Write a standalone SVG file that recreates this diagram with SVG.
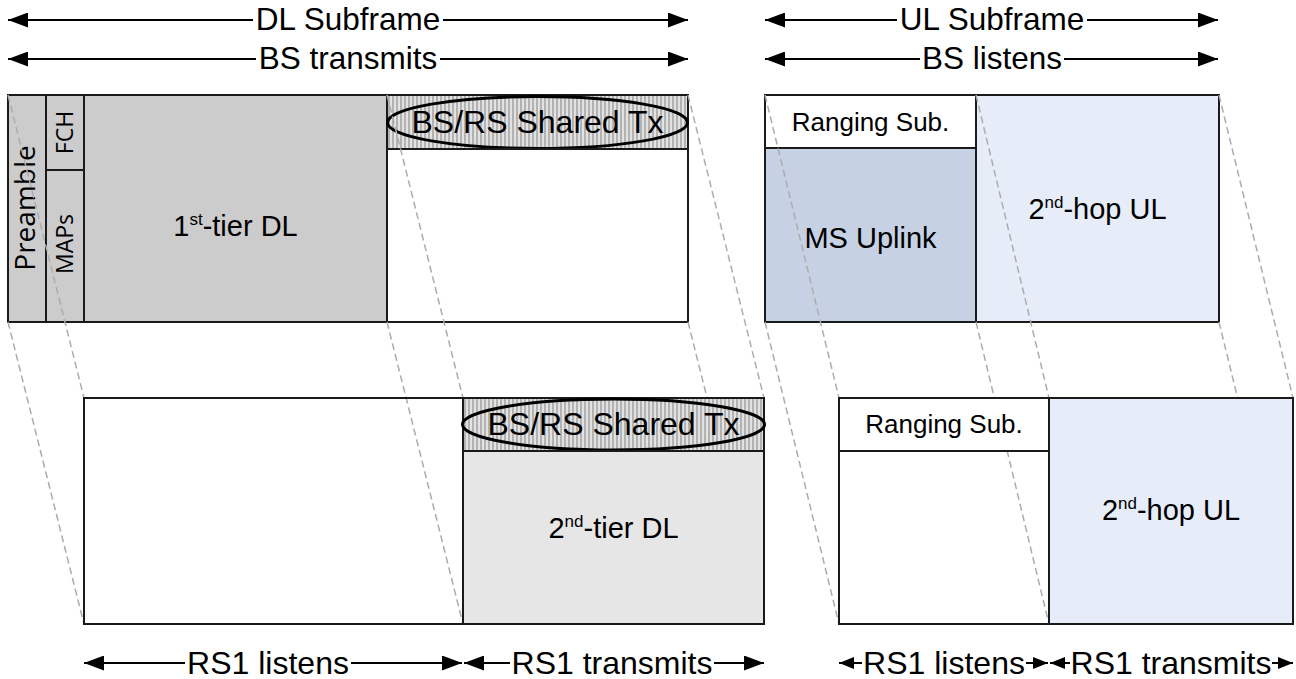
<svg xmlns="http://www.w3.org/2000/svg" width="1296" height="679" viewBox="0 0 1296 679">
  <style>
    .cell { stroke: #1a1a1a; stroke-width: 2; }
    .gray { fill: #cccccc; }
    .light { fill: #e6e6e6; }
    .blank { fill: #ffffff; }
    .open { fill: none; }
    .ms { fill: #c6d2e4; }
    .hop { fill: #e6edf8; }
    .shared { fill: url(#hatch); }
    .oval { fill: none; stroke: #000; stroke-width: 3; }
    .lbl { font-family: "Liberation Sans", Arial, sans-serif; fill: #000; text-anchor: middle; }
    .big { font-size: 32px; }
    .mid { font-size: 29px; }
    .small { font-size: 26px; }
    .dim { font-size: 31.5px; }
    .sup { font-size: 17px; }
    .side { font-family: "Open Sans", "Liberation Sans", sans-serif; fill: #000; text-anchor: middle; }
    .proj { stroke: #acacac; stroke-width: 1.5; stroke-dasharray: 7 4; fill: none; }
    .arr { stroke: #000; stroke-width: 2; fill: none; }
    .arr-s { marker-start: url(#head); }
    .arr-e { marker-end: url(#head); }
    .arr-ss { marker-start: url(#headSmall); }
    .arr-se { marker-end: url(#headSmall); }
  </style>
  <defs>
    <pattern id="hatch" patternUnits="userSpaceOnUse" width="4" height="10">
      <rect width="4" height="10" fill="#e2e2e2"/>
      <rect width="2" height="10" fill="#b2b2b2"/>
    </pattern>
    <marker id="head" markerUnits="userSpaceOnUse" markerWidth="20" markerHeight="15" refX="20" refY="7.5" orient="auto-start-reverse">
      <path d="M0,0 L20,7.5 L0,15 Z" fill="#000"/>
    </marker>
    <marker id="headSmall" markerUnits="userSpaceOnUse" markerWidth="15" markerHeight="12" refX="15" refY="6" orient="auto-start-reverse">
      <path d="M0,0 L15,6 L0,12 Z" fill="#000"/>
    </marker>
  </defs>

  <rect width="1296" height="679" fill="#ffffff"/>

  <!-- BS downlink subframe -->
  <g id="preamble">
    <rect class="cell gray" x="8" y="95" width="38" height="227"/>
    <text class="side" font-size="28" transform="translate(35,208) rotate(-90)">Preamble</text>
  </g>
  <g id="fch">
    <rect class="cell gray" x="46" y="95" width="38" height="75"/>
    <text class="side" font-size="23" transform="translate(73,132.5) rotate(-90)">FCH</text>
  </g>
  <g id="maps">
    <rect class="cell gray" x="46" y="170" width="38" height="152"/>
    <text class="side" font-size="23" transform="translate(73,244) rotate(-90)">MAPs</text>
  </g>
  <g id="tier1-dl">
    <rect class="cell gray" x="84" y="95" width="303" height="227"/>
    <text class="lbl mid" x="235.5" y="236">1<tspan class="sup" dy="-11">st</tspan><tspan dy="11">-tier DL</tspan></text>
  </g>
  <g id="bs-shared-tx">
    <rect class="cell shared" x="387" y="95" width="301" height="54"/>
    <ellipse class="oval" cx="537.5" cy="122.5" rx="150" ry="26"/>
    <text class="lbl big" x="537.5" y="133">BS/RS Shared Tx</text>
  </g>
  <g id="bs-dl-idle">
    <rect class="cell blank" x="387" y="149" width="301" height="173"/>
  </g>

  <!-- BS uplink subframe -->
  <g id="bs-ranging">
    <rect class="cell blank" x="765" y="95" width="211" height="53"/>
    <text class="lbl small" x="870.5" y="131">Ranging Sub.</text>
  </g>
  <g id="ms-uplink">
    <rect class="cell ms" x="765" y="148" width="211" height="174"/>
    <text class="lbl mid" x="870.5" y="248">MS Uplink</text>
  </g>
  <g id="bs-hop2-ul">
    <rect class="cell hop" x="976" y="95" width="243" height="227"/>
    <text class="lbl mid" x="1097.5" y="219">2<tspan class="sup" dy="-11">nd</tspan><tspan dy="11">-hop UL</tspan></text>
  </g>

  <!-- projections of the BS subframe edges onto the RS1 timeline -->
  <g id="connectors">
    <line class="proj" x1="8" y1="95" x2="84" y2="398"/>
    <line class="proj" x1="8" y1="322" x2="84" y2="624"/>
    <line class="proj" x1="387" y1="95" x2="463" y2="398"/>
    <line class="proj" x1="387" y1="322" x2="463" y2="624"/>
    <line class="proj" x1="688" y1="95" x2="764" y2="398"/>
    <line class="proj" x1="688" y1="322" x2="764" y2="624"/>
    <line class="proj" x1="765" y1="95" x2="839" y2="398"/>
    <line class="proj" x1="765" y1="322" x2="839" y2="624"/>
    <line class="proj" x1="976" y1="95" x2="1049" y2="398"/>
    <line class="proj" x1="976" y1="322" x2="1049" y2="624"/>
    <line class="proj" x1="1219" y1="95" x2="1293" y2="398"/>
    <line class="proj" x1="1219" y1="322" x2="1293" y2="624"/>
  </g>

  <!-- RS1 downlink subframe -->
  <g id="rs-dl-listen">
    <rect class="cell open" x="84" y="398" width="379" height="226"/>
  </g>
  <g id="rs-shared-tx">
    <rect class="cell shared" x="463" y="398" width="301" height="53"/>
    <ellipse class="oval" cx="613.5" cy="424.5" rx="151" ry="25.5"/>
    <text class="lbl big" x="613.5" y="435">BS/RS Shared Tx</text>
  </g>
  <g id="tier2-dl">
    <rect class="cell light" x="463" y="451" width="301" height="173"/>
    <text class="lbl mid" x="613.5" y="538">2<tspan class="sup" dy="-11">nd</tspan><tspan dy="11">-tier DL</tspan></text>
  </g>

  <!-- RS1 uplink subframe -->
  <g id="rs-ranging">
    <rect class="cell blank" x="839" y="398" width="210" height="53"/>
    <text class="lbl small" x="944" y="433">Ranging Sub.</text>
  </g>
  <g id="rs-ul-listen">
    <rect class="cell open" x="839" y="451" width="210" height="173"/>
  </g>
  <g id="rs-hop2-ul">
    <rect class="cell hop" x="1049" y="398" width="244" height="226"/>
    <text class="lbl mid" x="1171" y="520">2<tspan class="sup" dy="-11">nd</tspan><tspan dy="11">-hop UL</tspan></text>
  </g>

  <!-- duration arrows -->
  <g id="dl-subframe-span">
    <line class="arr arr-s" x1="8" y1="20" x2="253" y2="20"/>
    <line class="arr arr-e" x1="443" y1="20" x2="688" y2="20"/>
    <text class="lbl dim" x="348" y="30">DL Subframe</text>
  </g>
  <g id="bs-transmits-span">
    <line class="arr arr-s" x1="8" y1="59" x2="256" y2="59"/>
    <line class="arr arr-e" x1="440" y1="59" x2="688" y2="59"/>
    <text class="lbl dim" x="348" y="69">BS transmits</text>
  </g>
  <g id="ul-subframe-span">
    <line class="arr arr-s" x1="765" y1="20" x2="897" y2="20"/>
    <line class="arr arr-e" x1="1087" y1="20" x2="1218" y2="20"/>
    <text class="lbl dim" x="992" y="30">UL Subframe</text>
  </g>
  <g id="bs-listens-span">
    <line class="arr arr-s" x1="765" y1="59" x2="920" y2="59"/>
    <line class="arr arr-e" x1="1064" y1="59" x2="1218" y2="59"/>
    <text class="lbl dim" x="992" y="69">BS listens</text>
  </g>
  <g id="rs-dl-listens-span">
    <line class="arr arr-s" x1="84" y1="663" x2="185" y2="663"/>
    <line class="arr arr-e" x1="351" y1="663" x2="462" y2="663"/>
    <text class="lbl big" x="268" y="674">RS1 listens</text>
  </g>
  <g id="rs-dl-transmits-span">
    <line class="arr arr-s" x1="464" y1="663" x2="510" y2="663"/>
    <line class="arr arr-e" x1="714" y1="663" x2="764" y2="663"/>
    <text class="lbl big" x="612" y="674">RS1 transmits</text>
  </g>
  <g id="rs-ul-listens-span">
    <line class="arr arr-ss" x1="839" y1="663" x2="862" y2="663"/>
    <line class="arr arr-se" x1="1026" y1="663" x2="1048" y2="663"/>
    <text class="lbl big" x="944" y="674">RS1 listens</text>
  </g>
  <g id="rs-ul-transmits-span">
    <line class="arr arr-ss" x1="1050" y1="663" x2="1070" y2="663"/>
    <line class="arr arr-se" x1="1272" y1="663" x2="1293" y2="663"/>
    <text class="lbl big" x="1171" y="674">RS1 transmits</text>
  </g>
</svg>
